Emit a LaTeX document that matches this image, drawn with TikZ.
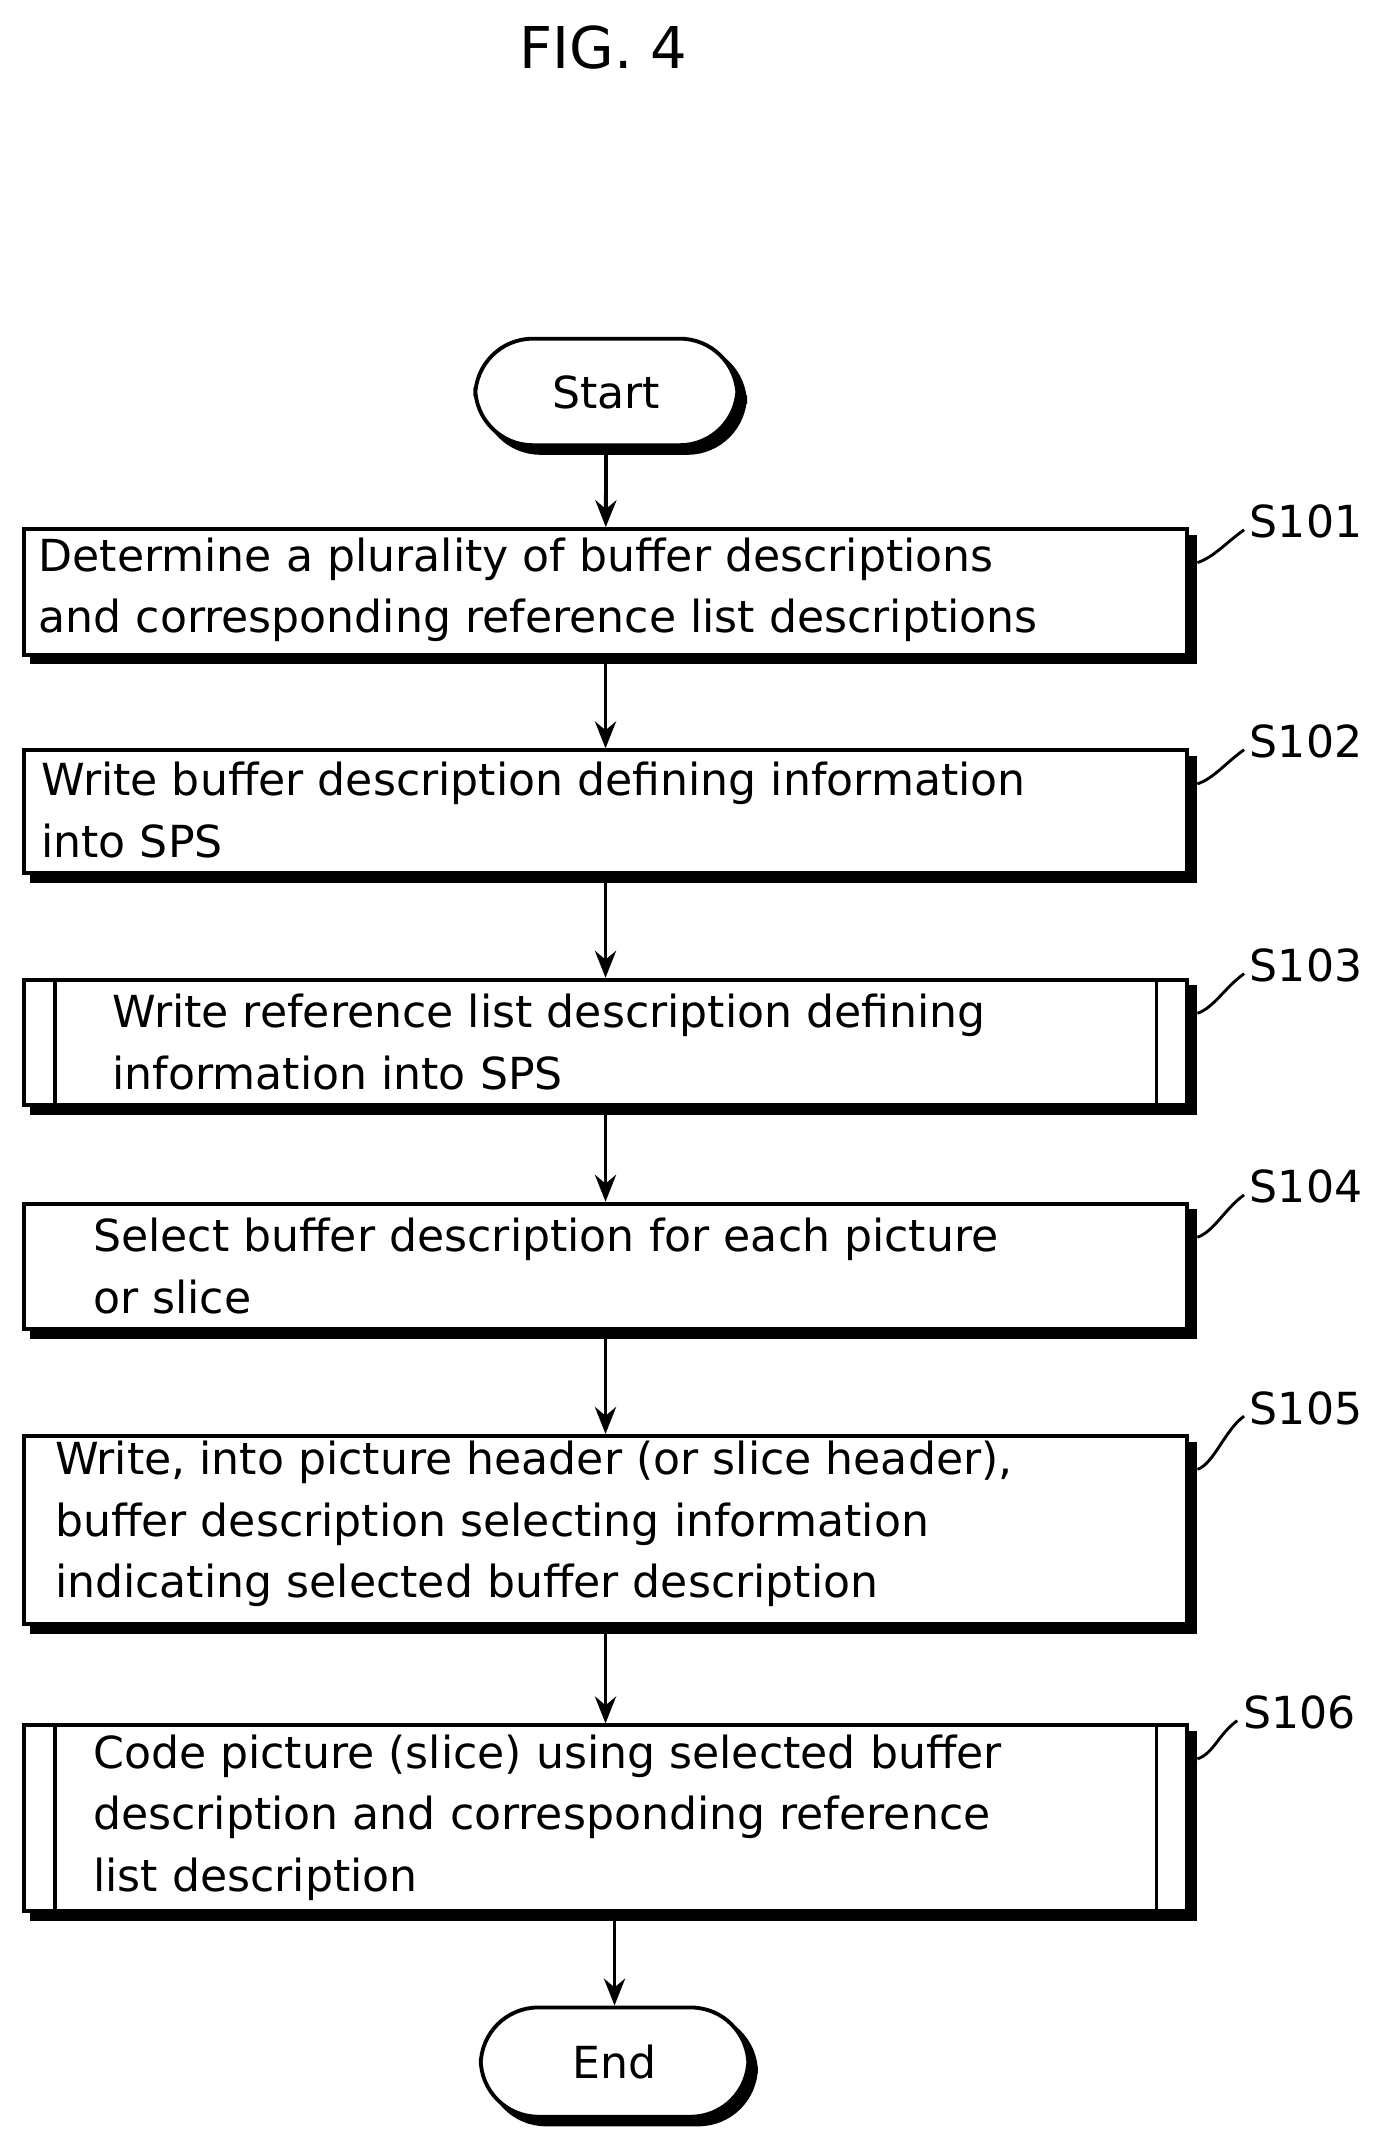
\documentclass[tikz,border=0pt]{standalone}
\usepackage{fontspec}
\setmainfont{DejaVu Sans}
\usetikzlibrary{shadows,calc,arrows.meta}
\begin{document}
\begin{tikzpicture}[x=0.025cm,y=-0.025cm,
 box/.style={draw,line width=2pt,fill=white,copy shadow={shadow xshift=4pt,shadow yshift=-4pt,fill=black,draw=black}},
 txt/.style={anchor=west,align=left,font=\fontsize{23}{32}\selectfont,inner sep=0pt},
 lbl/.style={font=\fontsize{23}{28}\selectfont,anchor=west,inner sep=0pt},
 arr/.style={line width=2pt,-{Stealth[length=14pt,width=11pt]}},
 sq/.style={line width=1.5pt}]
\useasboundingbox (0,0) rectangle (1024,1570);
\node[font=\fontsize{30}{36}\selectfont] (title) at (442,35) {FIG. 4};
% terminals
\node[box,rounded corners=30pt,minimum width=192*0.025cm,minimum height=78*0.025cm,font=\fontsize{23}{28}\selectfont] (start) at (444,287) {Start};
\node[box,rounded corners=30pt,minimum width=196*0.025cm,minimum height=80*0.025cm,font=\fontsize{23}{28}\selectfont] (end) at (450,1510) {End};
% boxes
\foreach \n/\ya/\yb in {b1/386/478,b2/548/638,b3/716/808,b4/880/972,b5/1050/1188,b6/1262/1398}{
 \node[box,minimum width=852*0.025cm,minimum height={(\yb-\ya)*0.025cm},anchor=north west] (\n) at (16,\ya) {};
}
\draw[line width=2pt] (b3.north west)++(24,0) -- ++(0,92) (b3.north east)++(-24,0) -- ++(0,92);
\draw[line width=2pt] (b6.north west)++(24,0) -- ++(0,136) (b6.north east)++(-24,0) -- ++(0,136);
\node[txt] (t1) at (28,432) {Determine a plurality of buffer descriptions\\and corresponding reference list descriptions};
\node[txt] (t2) at (30,593) {Write buffer description defining information\\into SPS};
\node[txt] (t3) at (82,763) {Write reference list description defining\\information into SPS};
\node[txt] (t4) at (68,927) {Select buffer description for each picture\\or slice};
\node[txt] (t5) at (40,1116) {Write, into picture header (or slice header),\\buffer description selecting information\\indicating selected buffer description};
\node[txt] (t6) at (68,1331) {Code picture (slice) using selected buffer\\description and corresponding reference\\list description};
% labels
\foreach \n/\y/\t in {b1/382/S101,b2/543/S102,b3/707/S103,b4/869/S104,b5/1031/S105}{
 \node[lbl] (l\n) at (915,\y) {\t};
 \coordinate (c\n) at ($(\n.north east)+(6,26)$);
 \draw[sq] (c\n) .. controls +(12,-4) and +(-14,10) .. ($(l\n.west)+(-4,6)$);
}
\node[lbl] (lb6) at (910,1254) {S106};
\coordinate (cb6) at ($(b6.north east)+(6,26)$);
\draw[sq] (cb6) .. controls +(12,-4) and +(-14,10) .. ($(lb6.west)+(-4,6)$);
% arrows
\draw[arr] (start) -- (b1);
\draw[arr] (b1) -- (b2);
\draw[arr] (b2) -- (b3);
\draw[arr] (b3) -- (b4);
\draw[arr] (b4) -- (b5);
\draw[arr] (b5) -- (b6);
\draw[arr] (b6.south -| end) -- (end);
\end{tikzpicture}
\end{document}
